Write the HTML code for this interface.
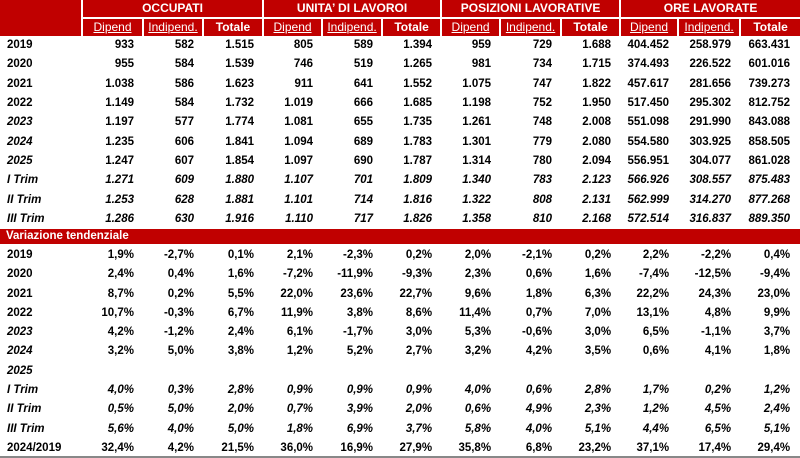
<!DOCTYPE html>
<html><head><meta charset="utf-8"><style>
body{margin:0;width:800px;height:454px;background:#fff;overflow:hidden;font-family:"Liberation Sans",Arial,sans-serif;}
table{border-collapse:collapse;table-layout:fixed;width:800px;font-size:11.5px;font-weight:bold;color:#000}
td{padding:0 9px 0 0;text-align:right;white-space:nowrap;overflow:hidden;height:19.3px;line-height:19px}
td:last-child{padding-right:10px}
td.l{text-align:left;padding-left:7px}
tr.h td{background:#c00000;color:#fff;text-align:center;padding:0;border-left:2px solid #fff;height:17px;line-height:17px;font-size:12px}
tr.h2 td{border-top:2px solid #fff;font-weight:normal;text-decoration:underline;font-size:12px}
tr.h2 td.t{font-weight:bold;text-decoration:none}
tr.h td.first{border-left:none}
tr.v td{background:#c00000;color:#fff;height:15px;line-height:15px;text-align:left;padding-left:6px}
tr.i td{font-style:italic}
td.il{font-style:italic}
tr.b td{padding-top:3px;height:16.3px;line-height:16px;vertical-align:top}
tr.last td{border-bottom:2px solid #888}
</style></head><body>
<table>
<colgroup><col style="width:82px"><col style="width:61px"><col style="width:60px"><col style="width:60px"><col style="width:59px"><col style="width:60px"><col style="width:59px"><col style="width:59px"><col style="width:61px"><col style="width:59px"><col style="width:58px"><col style="width:62px"><col style="width:60px"></colgroup>
<tr class="h"><td class="first" rowspan="2"></td><td colspan="3">OCCUPATI</td><td colspan="3">UNITA’ DI LAVOROI</td><td colspan="3">POSIZIONI LAVORATIVE</td><td colspan="3">ORE LAVORATE</td></tr>
<tr class="h h2"><td>Dipend</td><td>Indipend.</td><td class="t">Totale</td><td>Dipend</td><td>Indipend.</td><td class="t">Totale</td><td>Dipend</td><td>Indipend.</td><td class="t">Totale</td><td>Dipend</td><td>Indipend.</td><td class="t">Totale</td></tr>
<tr><td class="l">2019</td><td>933</td><td>582</td><td>1.515</td><td>805</td><td>589</td><td>1.394</td><td>959</td><td>729</td><td>1.688</td><td>404.452</td><td>258.979</td><td>663.431</td></tr>
<tr><td class="l">2020</td><td>955</td><td>584</td><td>1.539</td><td>746</td><td>519</td><td>1.265</td><td>981</td><td>734</td><td>1.715</td><td>374.493</td><td>226.522</td><td>601.016</td></tr>
<tr><td class="l">2021</td><td>1.038</td><td>586</td><td>1.623</td><td>911</td><td>641</td><td>1.552</td><td>1.075</td><td>747</td><td>1.822</td><td>457.617</td><td>281.656</td><td>739.273</td></tr>
<tr><td class="l">2022</td><td>1.149</td><td>584</td><td>1.732</td><td>1.019</td><td>666</td><td>1.685</td><td>1.198</td><td>752</td><td>1.950</td><td>517.450</td><td>295.302</td><td>812.752</td></tr>
<tr><td class="l il">2023</td><td>1.197</td><td>577</td><td>1.774</td><td>1.081</td><td>655</td><td>1.735</td><td>1.261</td><td>748</td><td>2.008</td><td>551.098</td><td>291.990</td><td>843.088</td></tr>
<tr><td class="l il">2024</td><td>1.235</td><td>606</td><td>1.841</td><td>1.094</td><td>689</td><td>1.783</td><td>1.301</td><td>779</td><td>2.080</td><td>554.580</td><td>303.925</td><td>858.505</td></tr>
<tr><td class="l il">2025</td><td>1.247</td><td>607</td><td>1.854</td><td>1.097</td><td>690</td><td>1.787</td><td>1.314</td><td>780</td><td>2.094</td><td>556.951</td><td>304.077</td><td>861.028</td></tr>
<tr class="i"><td class="l">I Trim</td><td>1.271</td><td>609</td><td>1.880</td><td>1.107</td><td>701</td><td>1.809</td><td>1.340</td><td>783</td><td>2.123</td><td>566.926</td><td>308.557</td><td>875.483</td></tr>
<tr class="i"><td class="l">II Trim</td><td>1.253</td><td>628</td><td>1.881</td><td>1.101</td><td>714</td><td>1.816</td><td>1.322</td><td>808</td><td>2.131</td><td>562.999</td><td>314.270</td><td>877.268</td></tr>
<tr class="i"><td class="l">III Trim</td><td>1.286</td><td>630</td><td>1.916</td><td>1.110</td><td>717</td><td>1.826</td><td>1.358</td><td>810</td><td>2.168</td><td>572.514</td><td>316.837</td><td>889.350</td></tr>
<tr class="v"><td colspan="13">Variazione tendenziale</td></tr>
<tr class="b"><td class="l">2019</td><td>1,9%</td><td>-2,7%</td><td>0,1%</td><td>2,1%</td><td>-2,3%</td><td>0,2%</td><td>2,0%</td><td>-2,1%</td><td>0,2%</td><td>2,2%</td><td>-2,2%</td><td>0,4%</td></tr>
<tr class="b"><td class="l">2020</td><td>2,4%</td><td>0,4%</td><td>1,6%</td><td>-7,2%</td><td>-11,9%</td><td>-9,3%</td><td>2,3%</td><td>0,6%</td><td>1,6%</td><td>-7,4%</td><td>-12,5%</td><td>-9,4%</td></tr>
<tr class="b"><td class="l">2021</td><td>8,7%</td><td>0,2%</td><td>5,5%</td><td>22,0%</td><td>23,6%</td><td>22,7%</td><td>9,6%</td><td>1,8%</td><td>6,3%</td><td>22,2%</td><td>24,3%</td><td>23,0%</td></tr>
<tr class="b"><td class="l">2022</td><td>10,7%</td><td>-0,3%</td><td>6,7%</td><td>11,9%</td><td>3,8%</td><td>8,6%</td><td>11,4%</td><td>0,7%</td><td>7,0%</td><td>13,1%</td><td>4,8%</td><td>9,9%</td></tr>
<tr class="b"><td class="l il">2023</td><td>4,2%</td><td>-1,2%</td><td>2,4%</td><td>6,1%</td><td>-1,7%</td><td>3,0%</td><td>5,3%</td><td>-0,6%</td><td>3,0%</td><td>6,5%</td><td>-1,1%</td><td>3,7%</td></tr>
<tr class="b"><td class="l il">2024</td><td>3,2%</td><td>5,0%</td><td>3,8%</td><td>1,2%</td><td>5,2%</td><td>2,7%</td><td>3,2%</td><td>4,2%</td><td>3,5%</td><td>0,6%</td><td>4,1%</td><td>1,8%</td></tr>
<tr class="b"><td class="l il">2025</td><td></td><td></td><td></td><td></td><td></td><td></td><td></td><td></td><td></td><td></td><td></td><td></td></tr>
<tr class="b i"><td class="l">I Trim</td><td>4,0%</td><td>0,3%</td><td>2,8%</td><td>0,9%</td><td>0,9%</td><td>0,9%</td><td>4,0%</td><td>0,6%</td><td>2,8%</td><td>1,7%</td><td>0,2%</td><td>1,2%</td></tr>
<tr class="b i"><td class="l">II Trim</td><td>0,5%</td><td>5,0%</td><td>2,0%</td><td>0,7%</td><td>3,9%</td><td>2,0%</td><td>0,6%</td><td>4,9%</td><td>2,3%</td><td>1,2%</td><td>4,5%</td><td>2,4%</td></tr>
<tr class="b i"><td class="l">III Trim</td><td>5,6%</td><td>4,0%</td><td>5,0%</td><td>1,8%</td><td>6,9%</td><td>3,7%</td><td>5,8%</td><td>4,0%</td><td>5,1%</td><td>4,4%</td><td>6,5%</td><td>5,1%</td></tr>
<tr class="b last"><td class="l">2024/2019</td><td>32,4%</td><td>4,2%</td><td>21,5%</td><td>36,0%</td><td>16,9%</td><td>27,9%</td><td>35,8%</td><td>6,8%</td><td>23,2%</td><td>37,1%</td><td>17,4%</td><td>29,4%</td></tr>
</table>
</body></html>
